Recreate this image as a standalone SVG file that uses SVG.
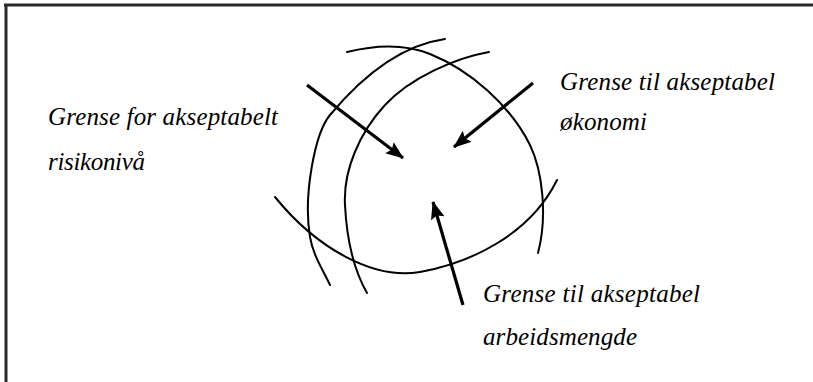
<svg xmlns="http://www.w3.org/2000/svg" width="813" height="382" viewBox="0 0 813 382">
<style>
.frame{stroke:#2a2a2a;stroke-width:3;fill:none}
.curve{stroke:#000;stroke-width:2;fill:none;stroke-linejoin:round;stroke-linecap:round}
.arrow{stroke:#000;stroke-width:3.2;fill:none}
</style>
<defs>
<marker id="ah" markerUnits="userSpaceOnUse" markerWidth="20" markerHeight="16" refX="17" refY="7" orient="auto">
<path d="M0,0 L18,7 L0,14 L3,7 z" fill="#000"/>
</marker>
</defs>
<rect width="813" height="382" fill="#fff"/>
<g id="frame">
<line class="frame" x1="4" y1="5" x2="813" y2="5"/>
<line class="frame" x1="6" y1="4" x2="6" y2="382"/>
</g>
<g id="boundary-risk">
<path class="curve" d="M445,39 C395,46 355,85 330,115 C315,133 303,195 310,237 C313,255 322,268 330,285"/>
<path class="curve" d="M489,52 C455,58 410,78 385,105 C360,132 343,170 345,205 C347,245 355,272 367,293"/>
</g>
<g id="boundary-economy">
<path class="curve" d="M347,52 C375,45 405,44 430,54 C470,70 510,105 530,145 C542,170 548,215 538,253"/>
</g>
<g id="boundary-workload">
<path class="curve" d="M275,197 C318,250 375,280 420,272 C470,263 530,235 557,180"/>
</g>
<g id="connectors">
<line class="arrow" x1="307" y1="85" x2="403" y2="158" marker-end="url(#ah)"/>
<line class="arrow" x1="533" y1="83" x2="454" y2="147" marker-end="url(#ah)"/>
<line class="arrow" x1="463" y1="305" x2="433" y2="202" marker-end="url(#ah)"/>
</g>
<g font-family="Liberation Serif, serif" font-style="italic" font-size="25" fill="#000">
<g id="label-risk">
<text x="48" y="125" textLength="230" lengthAdjust="spacing">Grense for akseptabelt</text>
<text x="48" y="170" textLength="97" lengthAdjust="spacing">risikonivå</text>
</g>
<g id="label-economy">
<text x="560" y="90" textLength="215" lengthAdjust="spacing">Grense til akseptabel</text>
<text x="560" y="130" textLength="87" lengthAdjust="spacing">økonomi</text>
</g>
<g id="label-workload">
<text x="483" y="302" textLength="217" lengthAdjust="spacing">Grense til akseptabel</text>
<text x="483" y="345" textLength="154" lengthAdjust="spacing">arbeidsmengde</text>
</g>
</g>
</svg>
